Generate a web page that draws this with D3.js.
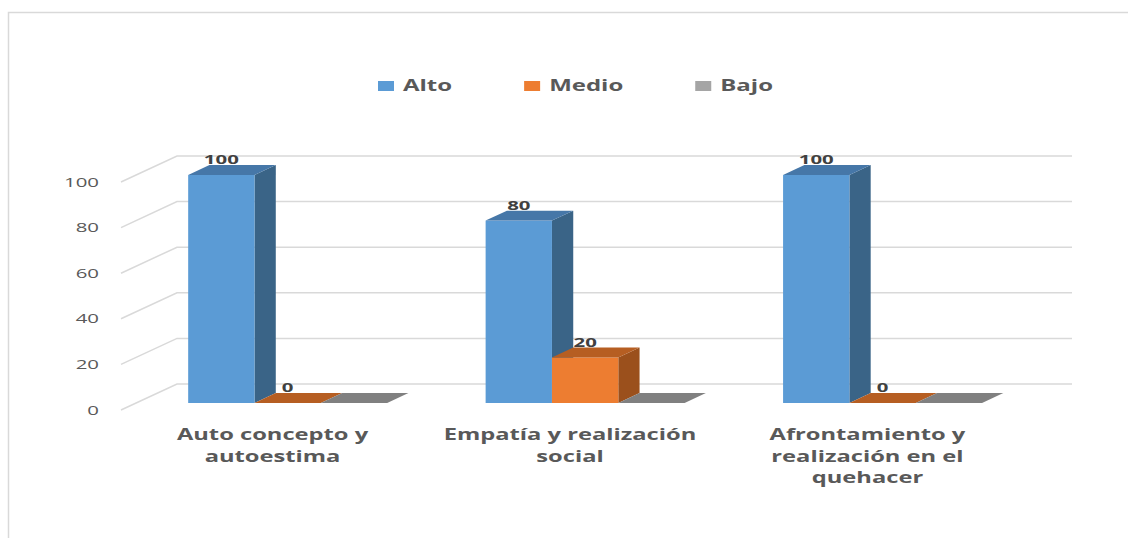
<!DOCTYPE html>
<html>
<head>
<meta charset="utf-8">
<script src="https://cdn.jsdelivr.net/npm/d3@7"></script>
<style>
	body { margin: 0; background: #fff; }
	svg { display: block; }
	text { font-family: "Open Sans", sans-serif; }
</style>
</head>
<body>
<svg id="chart"></svg>
<script>
// chart data
const categories = [
	"Auto concepto y\nautoestima",
	"Empatía y realización\nsocial",
	"Afrontamiento y\nrealización en el\nquehacer",
];
const seriesNames = ["Alto", "Medio", "Bajo"];
const alto = [100, 80, 100];
const medio = [0, 20, 0];
const bajo = [0, 0, 0];
const yTicks = [0, 20, 40, 60, 80, 100];

const seriesValues = [alto, medio, bajo];
const labelled = [true, true, false];

// colours: front, top, side
const palette = [
	{ front: "#5B9BD5", top: "#4677A8", side: "#3A6487" },
	{ front: "#ED7D31", top: "#B65E22", side: "#9B501C" },
	{ front: "#A5A5A5", top: "#808080", side: "#6E6E6E" },
];

const width = 1128;
const height = 538;

// depth of the floor (back wall -> front edge)
const DEPTH_X = -56;
const DEPTH_Y = 26;
const BAR_BACK = 0.35;
const BAR_FRONT = 0.73;

const proj = (x, y, d) => [x + DEPTH_X * d, y + DEPTH_Y * d];

const svg = d3.select("#chart").attr("width", width).attr("height", height);

// frame
svg
	.append("rect")
	.attr("x", 8.5)
	.attr("y", 12.5)
	.attr("width", 1300)
	.attr("height", 700)
	.style("fill", "#fff")
	.style("stroke", "#d9d9d9")
	.style("stroke-width", "1.5px");

const x = d3
	.scaleBand()
	.domain(d3.range(categories.length))
	.range([177, 1075])
	.paddingInner(0.331)
	.paddingOuter(0.175);

const xs = d3
	.scaleBand()
	.domain(d3.range(seriesNames.length))
	.range([0, x.bandwidth()])
	.padding(0);

const y = d3.scaleLinear().domain([0, 100]).range([384, 156]);

// gridlines on back wall and side wall
const grid = svg.append("g");
yTicks.forEach((t) => {
	const yy = y(t);
	const [fx, fy] = proj(177, yy, 1);
	grid
		.append("path")
		.attr("d", `M${fx},${fy}L177,${yy}L1072,${yy}`)
		.style("fill", "none")
		.style("stroke", "#d9d9d9")
		.style("stroke-width", "1.5px");
});

// y tick labels (front plane)
const TICK_SX = 1.62;
svg
	.append("g")
	.selectAll("text")
	.data(yTicks)
	.enter()
	.append("text")
	.attr("transform", (d) => `translate(99,${y(d) + DEPTH_Y + 4.5}) scale(${TICK_SX},1)`)
	.attr("text-anchor", "end")
	.text((d) => d)
	.style("font-size", "12.6px")
	.style("fill", "#595959");

// bars
const bars = svg.append("g");
const LABEL_SX = 1.62;
categories.forEach((c, ci) => {
	seriesNames.forEach((s, si) => {
		const v = seriesValues[si][ci];
		const col = palette[si];
		const x0 = x(ci) + xs(si);
		const x1 = x0 + xs.bandwidth();
		const yt = y(v);
		const yb = y(0);
		const fTL = proj(x0, yt, BAR_FRONT);
		const fTR = proj(x1, yt, BAR_FRONT);
		const fBR = proj(x1, yb, BAR_FRONT);
		const fBL = proj(x0, yb, BAR_FRONT);
		const bTL = proj(x0, yt, BAR_BACK);
		const bTR = proj(x1, yt, BAR_BACK);
		const bBR = proj(x1, yb, BAR_BACK);
		const poly = (pts) => "M" + pts.map((p) => p.join(",")).join("L") + "Z";

		if (v > 0) {
			bars.append("path").attr("d", poly([fTR, bTR, bBR, fBR])).style("fill", col.side);
			bars.append("path").attr("d", poly([fTL, fTR, fBR, fBL])).style("fill", col.front);
		}
		bars.append("path").attr("d", poly([fTL, fTR, bTR, bTL])).style("fill", col.top);

		if (labelled[si]) {
			const cx = (fTL[0] + fTR[0]) / 2;
			bars
				.append("text")
				.attr("transform", `translate(${cx},${bTL[1] - 1}) scale(${LABEL_SX},1)`)
				.attr("text-anchor", "middle")
				.text(v)
				.style("font-size", "12.6px")
				.style("font-weight", "700")
				.style("fill", "#404040");
		}
	});
});

// category labels on the front edge of the floor, one text per line
const CAT_SX = 1.53;
const catGroups = svg
	.append("g")
	.selectAll("g")
	.data(categories)
	.enter()
	.append("g")
	.attr("transform", (d, i) => {
		const [cx] = proj(x(i) + x.bandwidth() / 2, y(0), 1);
		return `translate(${cx},440)`;
	});

catGroups
	.selectAll("text")
	.data((d) => d.split("\n"))
	.enter()
	.append("text")
	.attr("transform", (d, i) => `translate(0,${i * 21.5}) scale(${CAT_SX},1)`)
	.attr("text-anchor", "middle")
	.text((d) => d)
	.style("font-size", "15.5px")
	.style("font-weight", "700")
	.style("fill", "#595959");

// legend
const LEG_SX = 1.5;
const legend = svg.append("g");
let lx = 378;
seriesNames.forEach((s, i) => {
	legend
		.append("rect")
		.attr("x", lx)
		.attr("y", 81)
		.attr("width", 16)
		.attr("height", 10)
		.style("fill", palette[i].front);
	const t = legend
		.append("text")
		.attr("transform", `translate(${lx + 25},91) scale(${LEG_SX},1)`)
		.text(s)
		.style("font-size", "16px")
		.style("font-weight", "700")
		.style("fill", "#595959");
	const w = t.node().getComputedTextLength() * LEG_SX;
	lx += 25 + w + 72;
});
</script>
</body>
</html>
